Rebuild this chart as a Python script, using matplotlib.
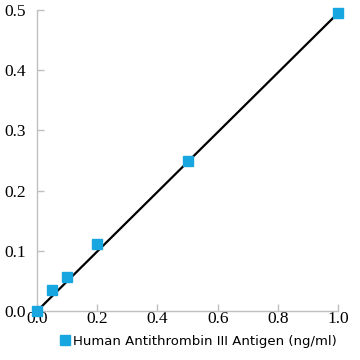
import matplotlib
matplotlib.use("Agg")
import matplotlib.pyplot as plt
from matplotlib.lines import Line2D

# data
conc = [0.0, 0.05, 0.1, 0.2, 0.5, 1.0]
od = [0.0, 0.035, 0.057, 0.112, 0.25, 0.495]
fit_x = [0.0, 1.0]
fit_y = [0.0, 0.495]
xticks = [0.0, 0.2, 0.4, 0.6, 0.8, 1.0]
yticks = [0.0, 0.1, 0.2, 0.3, 0.4, 0.5]
series_name = "Human Antithrombin III Antigen (ng/ml)"

BLUE = "#17a6e0"

fig = plt.figure(figsize=(3.6, 3.6), dpi=100)
ax = fig.add_axes([0.103, 0.136, 0.836, 0.836])

ax.plot(fit_x, fit_y, color="black", lw=1.6, zorder=2, clip_on=False)
ax.plot(conc, od, "s", color=BLUE, ms=7, mec=BLUE, zorder=3, clip_on=False)

ax.set_xlim(0, 1.0)
ax.set_ylim(0, 0.5)
ax.set_xticks(xticks)
ax.set_yticks(yticks)
ax.set_xticklabels([f"{v:.1f}" for v in xticks])
ax.set_yticklabels([f"{v:.1f}" for v in yticks])

for s in ["top", "right"]:
    ax.spines[s].set_visible(False)
for s in ["left", "bottom"]:
    ax.spines[s].set_color("#c0c0c0")
    ax.spines[s].set_linewidth(1.0)

ax.tick_params(direction="in", length=5, color="#c0c0c0", width=1.0,
               labelsize=12.5)
ax.tick_params(axis="x", pad=0)
ax.tick_params(axis="y", pad=8)
for lbl in ax.get_xticklabels() + ax.get_yticklabels():
    lbl.set_family("Liberation Serif")

handle = Line2D([], [], marker="s", ls="none", color=BLUE, ms=7)
fig.legend([handle], [series_name], loc="center", bbox_to_anchor=(0.55, 0.052),
           frameon=False, handletextpad=0.1, handlelength=1.0,
           prop={"family": "DejaVu Sans", "size": 9.5})

fig.savefig("out.png", dpi=100)
